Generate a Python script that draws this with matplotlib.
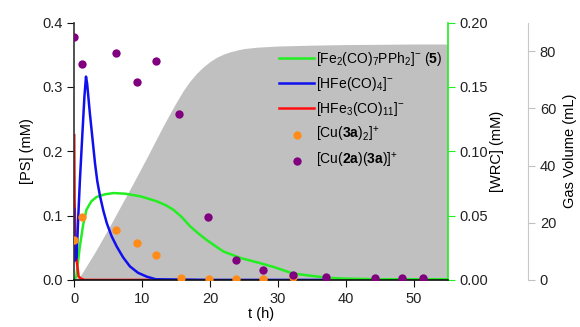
import matplotlib
matplotlib.use("Agg")
import matplotlib.pyplot as plt

plt.rcParams['font.family'] = ['Liberation Sans', 'DejaVu Sans']
plt.rcParams['mathtext.fontset'] = 'custom'
plt.rcParams['mathtext.rm'] = 'Liberation Sans'
plt.rcParams['mathtext.bf'] = 'Liberation Sans:bold'
plt.rcParams['mathtext.it'] = 'Liberation Sans:italic'
plt.rcParams['font.size'] = 10.5

# gas volume (mL)
t_gas = [0, 1, 3, 5, 7, 9, 11, 13, 14, 15, 16, 17, 18, 19, 20, 21, 22, 23, 24, 25, 27, 30,
         35, 40, 45, 50, 55]
gas = [0, 1.8, 9.5, 17.8, 26.5, 35.2, 44.2, 53.4, 57.8, 62.0, 66.0, 69.4, 72.2, 74.5, 76.4,
       77.9, 79.0, 79.8, 80.4, 80.9, 81.4, 81.8, 82.1, 82.3, 82.4, 82.5, 82.5]

# [Fe2(CO)7PPh2]- (5), WRC axis
t_wrc = [0, 0.3, 0.8, 1.3, 1.8, 2.5, 3.3, 4.5, 5.8, 7.5, 9.7, 11, 12.2, 13.5, 14.6, 15.8, 17.1,
         18.3, 19.5, 21, 22, 24.5, 27.4, 29.4, 32.2, 35.2, 37.7, 40, 45, 50, 55]
wrc = [0, 0.0025, 0.025, 0.0425, 0.0545, 0.061, 0.0645, 0.0665, 0.0675, 0.067, 0.065, 0.063,
       0.061, 0.058, 0.0545, 0.049, 0.0415, 0.036, 0.031, 0.0255, 0.022, 0.017, 0.013, 0.010,
       0.005, 0.003, 0.0015, 0.001, 0.0005, 0.0005, 0.0005]

# [HFe(CO)4]-
t_hfe = [0, 0.02, 0.1, 0.35, 0.6, 0.84, 1.23, 1.5, 1.73, 1.9, 2.3, 2.7, 3.06, 3.4, 3.8, 4.3,
         4.8, 5.5, 6.25, 7.2, 8.2, 9.4, 10.7, 12, 20, 30, 37]
hfe = [0.11, 0.05, 0.03, 0.035, 0.10, 0.156, 0.233, 0.285, 0.316, 0.305, 0.259, 0.218, 0.181,
       0.153, 0.130, 0.107, 0.088, 0.068, 0.052, 0.035, 0.021, 0.011, 0.005, 0.001, 0, 0, 0]

# [HFe3(CO)11]-
t_hfe3 = [0, 0.05, 0.15, 0.25, 0.4, 0.65, 1.0, 1.5, 11]
hfe3 = [0.225, 0.125, 0.08, 0.052, 0.026, 0.005, 0.002, 0, 0]

# [Cu(3a)2]+
t_cu1 = [0, 1.2, 6.1, 9.3, 12.0, 15.7, 19.8, 23.8, 27.8, 32.2]
cu1 = [0.062, 0.098, 0.078, 0.057, 0.039, 0.003, 0.002, 0.002, 0.002, 0.005]

# [Cu(2a)(3a)]+
t_cu2 = [0, 1.2, 6.2, 9.3, 12.1, 15.4, 19.7, 23.8, 27.8, 32.2, 37.1, 44.3, 48.3, 51.3]
cu2 = [0.378, 0.336, 0.353, 0.307, 0.341, 0.258, 0.098, 0.031, 0.016, 0.008, 0.004, 0.003,
       0.003, 0.003]

fig = plt.figure(figsize=(5.8, 3.27), dpi=100)
ax3 = fig.add_axes([0.128, 0.144, 0.644, 0.787])
ax2 = ax3.twinx()
ax = ax3.twinx()

ax3.set_zorder(1)
ax2.set_zorder(2)
ax.set_zorder(3)
ax2.patch.set_visible(False)
ax.patch.set_visible(False)

# gas volume fill (outer right axis)
ax3.fill_between(t_gas, gas, 0, color='#c0c0c0', lw=0)
ax3.set_ylim(0, 90)
ax3.set_xlim(0, 55)
ax3.yaxis.tick_right()
ax3.yaxis.set_label_position('right')
ax3.spines['right'].set_position(('axes', 1.215))
ax3.spines['right'].set_color('#c8c8c8')
for s in ['left', 'top', 'bottom']:
    ax3.spines[s].set_visible(False)
ax3.set_yticks([0, 20, 40, 60, 80])
ax3.tick_params(axis='y', colors='#c0c0c0', labelcolor='#222222', direction='out', length=5)
ax3.set_xticks([])
ax3.set_ylabel('Gas Volume (mL)', labelpad=5)

# WRC axis (green)
ax2.plot(t_wrc, wrc, color='#22ee22', lw=1.8)
ax2.set_ylim(0, 0.20)
ax2.set_xlim(0, 55)
ax2.set_yticks([0, 0.05, 0.10, 0.15, 0.20])
ax2.set_yticklabels(['0.00', '0.05', '0.10', '0.15', '0.20'])
ax2.spines['right'].set_color('#22ee22')
ax2.spines['right'].set_linewidth(1.2)
for s in ['left', 'top', 'bottom']:
    ax2.spines[s].set_visible(False)
ax2.tick_params(axis='y', colors='#22ee22', labelcolor='#222222', direction='out', length=5)
ax2.set_ylabel('[WRC] (mM)', labelpad=1)

# PS axis
ax.yaxis.tick_left()
ax.yaxis.set_label_position('left')
ax.plot(t_hfe3, hfe3, color='#ff1010', lw=1.8)
ax.plot(t_hfe, hfe, color='#1010ee', lw=1.8)
ax.scatter(t_cu1, cu1, s=36, color='#ff8c1a', lw=0, zorder=4)
ax.scatter(t_cu2, cu2, s=36, color='#800080', lw=0, zorder=5)
ax.set_ylim(0, 0.4)
ax.set_xlim(0, 55)
ax.set_yticks([0, 0.1, 0.2, 0.3, 0.4])
ax.set_yticklabels(['0.0', '0.1', '0.2', '0.3', '0.4'])
ax.set_xticks([0, 10, 20, 30, 40, 50])
for s in ['right', 'top']:
    ax.spines[s].set_visible(False)
ax.spines['left'].set_color('#333333')
ax.spines['left'].set_linewidth(1.2)
ax.spines['bottom'].set_color('#111111')
ax.spines['bottom'].set_linewidth(1.2)
ax.tick_params(axis='both', colors='#111111', labelcolor='#222222', direction='out', length=5)
ax.xaxis.set_visible(True)
ax.xaxis.tick_bottom()
ax.set_xlabel('t (h)', labelpad=1)
ax.set_ylabel('[PS] (mM)', labelpad=6)
ax3.xaxis.set_visible(False)
ax2.xaxis.set_visible(False)

h_green = ax2.get_lines()[0]
h_blue = ax.get_lines()[1]
h_red = ax.get_lines()[0]
h_or = ax.collections[0]
h_pu = ax.collections[1]
labels = [r'[Fe$_2$(CO)$_7$PPh$_2$]$^{-}$ ($\mathbf{5}$)',
          r'[HFe(CO)$_4$]$^{-}$',
          r'[HFe$_3$(CO)$_{11}$]$^{-}$',
          r'[Cu($\mathbf{3a}$)$_2$]$^{+}$',
          r'[Cu($\mathbf{2a}$)($\mathbf{3a}$)]$^{+}$']
ax.legend([h_green, h_blue, h_red, h_or, h_pu], labels, loc='upper left',
          bbox_to_anchor=(0.53, 0.92), frameon=False, handlelength=2.5,
          handletextpad=0.15, labelspacing=0.5, borderpad=0, fontsize=10)

fig.savefig('out.png', dpi=100)
